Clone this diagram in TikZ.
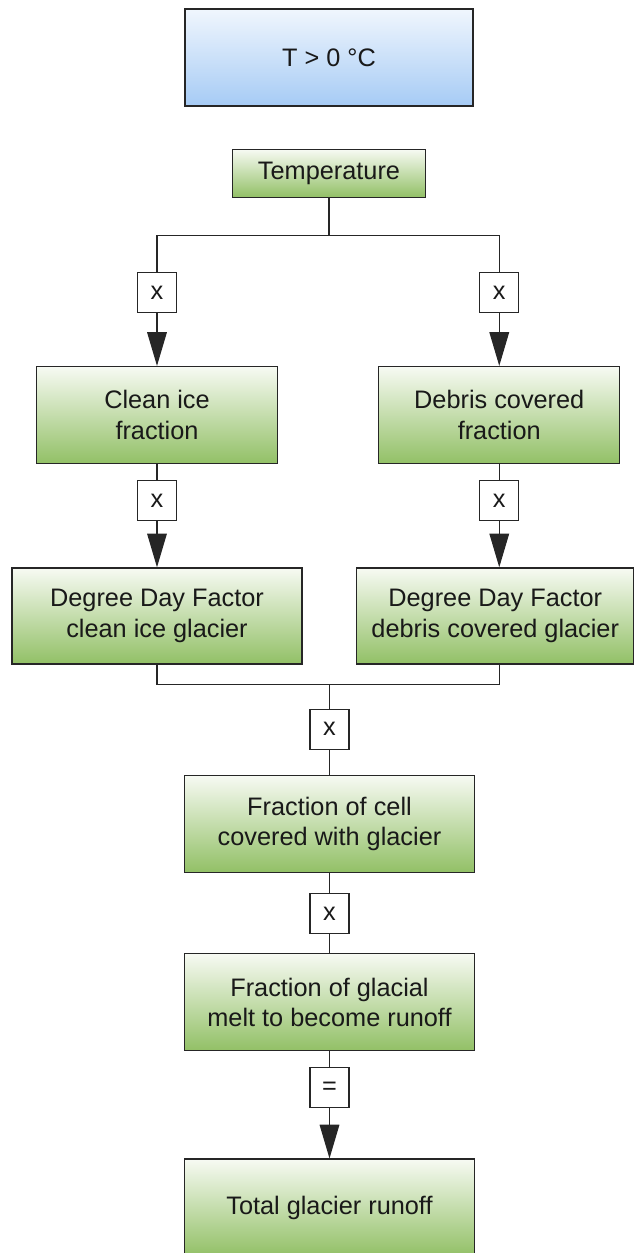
\documentclass[tikz,border=0pt]{standalone}
\usepackage{fontspec}
\setmainfont{Liberation Sans}
\usetikzlibrary{arrows.meta, positioning}
\definecolor{GreenTop}{RGB}{247,250,243}
\definecolor{GreenBot}{RGB}{146,192,102}
\definecolor{BlueTop}{RGB}{240,246,253}
\definecolor{BlueBot}{RGB}{166,203,245}
\colorlet{BoxLine}{black!85}
\colorlet{BoxText}{black!90}

\begin{document}
\begin{tikzpicture}[
    stage/.style={
        rectangle, draw=BoxLine, line width=0.9pt,
        top color=GreenTop, bottom color=GreenBot,
        minimum width=#1, minimum height=2.425cm, inner sep=2pt,
        align=center, font=\fontsize{18}{21.5}\selectfont, text=BoxText
    },
    stage/.default={7.25cm},
    cond/.style={stage=7.2cm, top color=BlueTop, bottom color=BlueBot},
    op/.style={
        rectangle, draw=BoxLine, line width=0.8pt, fill=white,
        minimum width=0.975cm, minimum height=1cm, inner sep=0pt,
        font=\fontsize{18}{21.5}\selectfont, text=BoxText
    },
    link/.style={line width=0.8pt, BoxLine},
    arr/.style={link, -{Triangle[length=24pt, width=14pt]}}
]
\useasboundingbox (-8.225,1.4375) rectangle (7.625,-29.8875);

% ===================================================================
% BOXES
% ===================================================================
\node[cond] (tcond) {T > 0 °C};
\node[stage=4.825cm, minimum height=1.2cm, below=1.05cm of tcond] (temp)
    {Temperature};

\node[stage=6.025cm, below=4.2cm of temp, xshift=-4.3cm] (clean)
    {Clean ice\\fraction};
\node[stage=6.025cm, right=2.5cm of clean] (debris)
    {Debris covered\\fraction};

\node[op, above=1.325cm of clean] (xCleanIn) {x};
\node[op, above=1.325cm of debris] (xDebrisIn) {x};
\node[op, below=0.4cm of clean] (xCleanOut) {x};
\node[op, below=0.4cm of debris] (xDebrisOut) {x};

\node[stage=7.25cm, minimum height=2.4cm, below=1.15cm of xCleanOut] (ddfClean)
    {Degree Day Factor\\clean ice glacier};
\node[stage=6.925cm, minimum height=2.4cm, below=1.15cm of xDebrisOut,
      xshift=-0.1cm] (ddfDebris)
    {Degree Day Factor\\debris covered glacier};

\node[op, below=1.1cm of ddfClean, xshift=4.3125cm] (xMerge) {x};
\node[stage, below=0.625cm of xMerge] (cell)
    {Fraction of cell\\covered with glacier};
\node[op, below=0.5cm of cell] (xCell) {x};
\node[stage, below=0.475cm of xCell] (melt)
    {Fraction of glacial\\melt to become runoff};
\node[op, below=0.4cm of melt] (eqRunoff) {=};
\node[stage, below=1.25cm of eqRunoff] (total)
    {Total glacier runoff};

% ===================================================================
% CONNECTORS
% ===================================================================
\coordinate[below=0.95cm of temp] (split);
\coordinate[above=0.6cm of xMerge] (merge);

\draw[link] (temp) -- (split);
\draw[link] (xCleanIn.north) |- (split) -| (xDebrisIn.north);
\draw[arr] (xCleanIn) -- (clean);
\draw[arr] (xDebrisIn) -- (debris);
\draw[arr] (xCleanOut) -- (ddfClean);
\draw[arr] (xDebrisOut.south) -- (xDebrisOut.south |- ddfDebris.north);
\draw[link] (ddfClean.south) |- (merge) -| (ddfDebris.south -| xDebrisOut);
\foreach \a/\b in {clean/xCleanOut, debris/xDebrisOut, merge/xMerge,
                   xMerge/cell, cell/xCell, xCell/melt, melt/eqRunoff} {
    \draw[link] (\a) -- (\b);
}
\draw[arr] (eqRunoff) -- (total);

\end{tikzpicture}
\end{document}
